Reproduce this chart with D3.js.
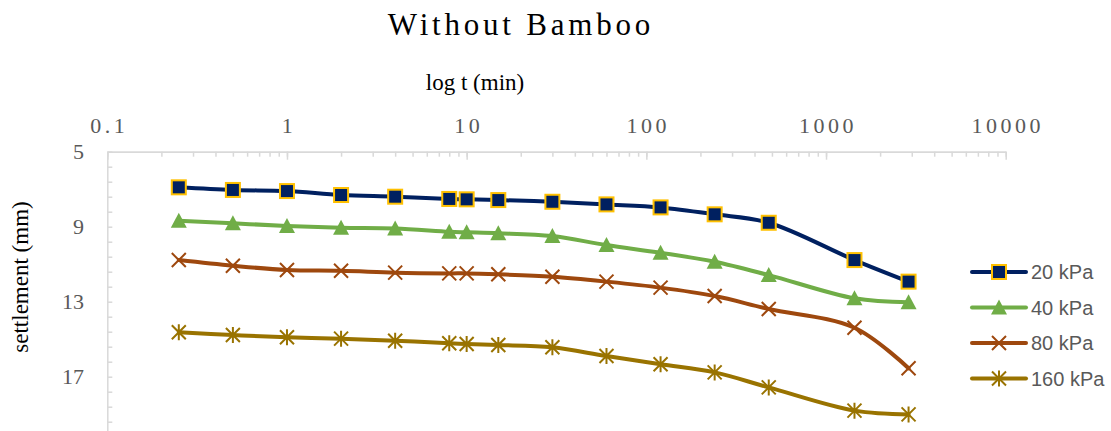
<!DOCTYPE html>
<html>
<head>
<meta charset="utf-8">
<script src="https://cdn.jsdelivr.net/npm/d3@7"></script>
<style>
  body { margin: 0; background: #fff; }
  svg { display: block; }
</style>
</head>
<body>
<svg id="chart"></svg>
<script>
// time (min) and settlement (mm)
const times = [0.25, 0.5, 1, 2, 4, 8, 10, 15, 30, 60, 120, 240, 480, 1440, 2880];
const s20  = [6.90, 7.04, 7.10, 7.31, 7.40, 7.52, 7.54, 7.58, 7.67, 7.81, 7.97, 8.34, 8.79, 10.78, 11.93];
const s40  = [8.68, 8.82, 8.96, 9.05, 9.09, 9.27, 9.30, 9.35, 9.50, 9.98, 10.39, 10.87, 11.58, 12.82, 13.03];
const s80  = [10.78, 11.08, 11.31, 11.35, 11.45, 11.49, 11.49, 11.54, 11.67, 11.93, 12.25, 12.70, 13.39, 14.39, 16.55];
const s160 = [14.63, 14.78, 14.90, 14.97, 15.08, 15.22, 15.26, 15.31, 15.43, 15.90, 16.34, 16.77, 17.57, 18.81, 19.01];

const seriesNames = ["20 kPa", "40 kPa", "80 kPa", "160 kPa"];
const xTickLabels = [0.1, 1, 10, 100, 1000, 10000];
const yTickLabels = [5, 9, 13, 17];

const width = 1111, height = 431;
const plot = { left: 107.3, right: 1005.7, top: 151.7 };

const svg = d3.select("#chart")
    .attr("width", width)
    .attr("height", height);

const x = d3.scaleLog()
    .domain([0.1, 10000])
    .range([plot.left, plot.right]);

// y grows downward, axis max 21 falls below the cropped picture
const y = d3.scaleLinear()
    .domain([5, 21])
    .range([plot.top, plot.top + 300]);

const axisColor = "#d9d9d9";
const labelColor = "#595959";

// top axis: minor ticks then major ticks (pointing into the plot)
const minorX = svg.append("g")
    .attr("transform", `translate(0,${plot.top})`)
    .call(d3.axisBottom(x).tickValues(x.ticks()).tickSize(5).tickFormat("").tickSizeOuter(0));
const majorX = svg.append("g")
    .attr("transform", `translate(0,${plot.top})`)
    .call(d3.axisBottom(x).tickValues(xTickLabels).tickSize(8).tickFormat("").tickSizeOuter(0));
[minorX, majorX].forEach(g => {
    g.selectAll("path, line").attr("stroke", axisColor).attr("stroke-width", 1.5);
});

svg.append("g")
    .selectAll("text")
    .data(xTickLabels)
    .enter()
    .append("text")
    .attr("x", d => x(d) + 2)
    .attr("y", 133)
    .attr("text-anchor", "middle")
    .attr("font-family", "Liberation Serif, Times New Roman, serif")
    .attr("font-size", 22)
    .attr("letter-spacing", 3.5)
    .attr("fill", labelColor)
    .text(d => d);

// left axis
const minorY = svg.append("g")
    .attr("transform", `translate(${plot.left},0)`)
    .call(d3.axisRight(y).tickValues(d3.range(0, 21).map(i => 5 + i * 0.8)).tickSize(5).tickFormat("").tickSizeOuter(0));
minorY.selectAll("path, line").attr("stroke", axisColor).attr("stroke-width", 1.5);

svg.append("g")
    .selectAll("text")
    .data(yTickLabels)
    .enter()
    .append("text")
    .attr("x", 84)
    .attr("y", d => y(d))
    .attr("dy", "0.35em")
    .attr("text-anchor", "end")
    .attr("font-family", "Liberation Serif, Times New Roman, serif")
    .attr("font-size", 22)
    .attr("fill", labelColor)
    .text(d => d);

// titles
svg.append("text")
    .attr("x", 521)
    .attr("y", 35)
    .attr("text-anchor", "middle")
    .attr("font-family", "Liberation Serif, Times New Roman, serif")
    .attr("font-size", 31)
    .attr("letter-spacing", 3.8)
    .attr("fill", "#000")
    .text("Without Bamboo");

svg.append("text")
    .attr("x", 475)
    .attr("y", 90)
    .attr("text-anchor", "middle")
    .attr("font-family", "Liberation Serif, Times New Roman, serif")
    .attr("font-size", 23)
    .attr("fill", "#000")
    .text("log t (min)");

svg.append("text")
    .attr("transform", "translate(28,277) rotate(-90)")
    .attr("text-anchor", "middle")
    .attr("font-family", "Liberation Serif, Times New Roman, serif")
    .attr("font-size", 23)
    .attr("fill", "#000")
    .text("settlement (mm)");

// series
const series = [
    { name: seriesNames[0], values: s20,  color: "#002060", marker: "square" },
    { name: seriesNames[1], values: s40,  color: "#70ad47", marker: "triangle" },
    { name: seriesNames[2], values: s80,  color: "#9e480e", marker: "x" },
    { name: seriesNames[3], values: s160, color: "#997300", marker: "star" }
];

const line = d3.line()
    .x(d => x(d.t))
    .y(d => y(d.v))
    .curve(d3.curveCatmullRom.alpha(0.5));

function drawMarker(g, type, color) {
    if (type === "square") {
        g.append("rect")
            .attr("x", -7).attr("y", -7)
            .attr("width", 14).attr("height", 14)
            .attr("fill", "#002060")
            .attr("stroke", "#ffc000")
            .attr("stroke-width", 2);
    } else if (type === "triangle") {
        g.append("path")
            .attr("d", "M0,-8 L8,7 L-8,7 Z")
            .attr("fill", color);
    } else if (type === "x") {
        g.append("path")
            .attr("d", "M-7,-7 L7,7 M-7,7 L7,-7")
            .attr("stroke", color)
            .attr("stroke-width", 2)
            .attr("fill", "none");
    } else {
        g.append("path")
            .attr("d", "M-7,-7 L7,7 M-7,7 L7,-7 M0,-8 L0,8")
            .attr("stroke", color)
            .attr("stroke-width", 2)
            .attr("fill", "none");
    }
}

series.forEach(s => {
    const pts = times.map((t, i) => ({ t: t, v: s.values[i] }));

    svg.append("path")
        .datum(pts)
        .attr("d", line)
        .attr("fill", "none")
        .attr("stroke", s.color)
        .attr("stroke-width", 4)
        .attr("stroke-linecap", "round");

    svg.append("g")
        .selectAll("g")
        .data(pts)
        .enter()
        .append("g")
        .attr("transform", d => `translate(${x(d.t)},${y(d.v)})`)
        .each(function () { drawMarker(d3.select(this), s.marker, s.color); });
});

// legend
const legend = svg.append("g")
    .selectAll("g")
    .data(series)
    .enter()
    .append("g")
    .attr("transform", (d, i) => `translate(972,${272 + i * 35.5})`);

legend.append("line")
    .attr("x1", 0).attr("x2", 54)
    .attr("stroke", d => d.color)
    .attr("stroke-width", 4)
    .attr("stroke-linecap", "round");

legend.append("g")
    .attr("transform", "translate(27,0)")
    .each(function (d) { drawMarker(d3.select(this), d.marker, d.color); });

legend.append("text")
    .attr("x", 59)
    .attr("dy", "0.35em")
    .attr("font-family", "Liberation Sans, Arial, sans-serif")
    .attr("font-size", 20)
    .attr("fill", labelColor)
    .text(d => d.name);
</script>
</body>
</html>
